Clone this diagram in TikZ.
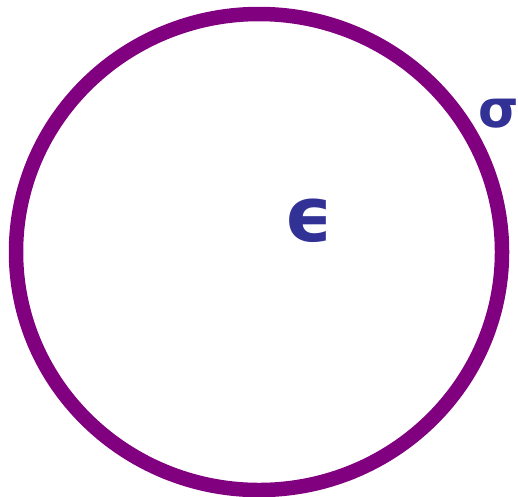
\documentclass[tikz,border=0pt]{standalone}
\usepackage{fontspec}
\setmainfont{DejaVu Sans}
\definecolor{ringpurple}{RGB}{128,0,128}
\definecolor{labelblue}{RGB}{50,50,150}
\begin{document}
\begin{tikzpicture}[x=1pt, y=-1pt,
    ring/.style={draw=ringpurple, line width=14.5pt},
    symb/.style={text=labelblue, font=\bfseries, inner sep=0pt}
]
    \useasboundingbox (0,0) rectangle (518,496);
    % the region and its boundary
    \draw[ring] (259,252) ellipse [x radius=243, y radius=238];
    \node[symb, font=\fontsize{76}{76}\selectfont\bfseries] (eps) at (309,221) {ϵ};
    \node[symb, font=\fontsize{52}{52}\selectfont\bfseries] (sig) at (499,114) {σ};
\end{tikzpicture}
\end{document}
